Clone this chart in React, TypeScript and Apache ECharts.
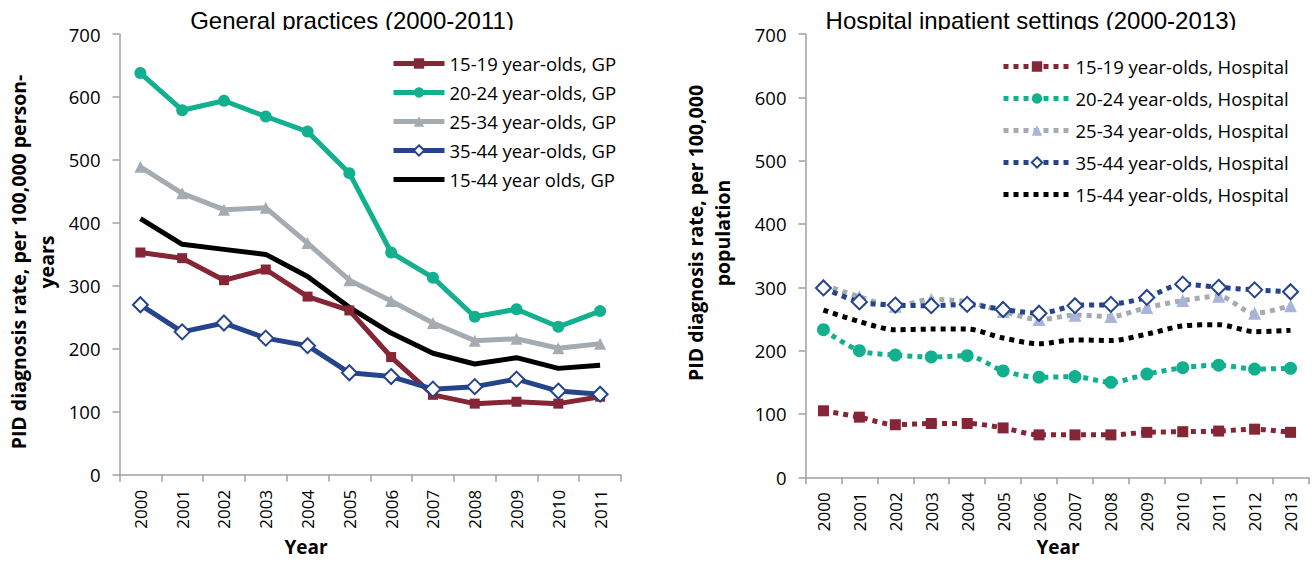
import React, { useEffect, useRef } from "react";
import * as echarts from "echarts";

// ---------- data ----------
const gpYears = ["2000", "2001", "2002", "2003", "2004", "2005", "2006", "2007", "2008", "2009", "2010", "2011"];
const hospYears = ["2000", "2001", "2002", "2003", "2004", "2005", "2006", "2007", "2008", "2009", "2010", "2011", "2012", "2013"];

const gpNames = [
  "15-19 year-olds, GP",
  "20-24 year-olds, GP",
  "25-34 year-olds, GP",
  "35-44 year-olds, GP",
  "15-44 year olds, GP",
];
const hospNames = [
  "15-19 year-olds, Hospital",
  "20-24 year-olds, Hospital",
  "25-34 year-olds, Hospital",
  "35-44 year-olds, Hospital",
  "15-44 year-olds, Hospital",
];

const gp1519 = [353, 344, 309, 326, 283, 261, 187, 127, 113, 116, 113, 124];
const gp2024 = [638, 579, 594, 569, 545, 479, 353, 313, 251, 263, 235, 260];
const gp2534 = [489, 447, 421, 424, 368, 309, 276, 241, 213, 216, 201, 208];
const gp3544 = [270, 227, 241, 217, 205, 162, 156, 136, 140, 152, 133, 128];
const gp1544 = [407, 366, 358, 350, 315, 266, 225, 193, 176, 186, 169, 174];

const h1519 = [105, 95, 83, 85, 85, 78, 67, 67, 67, 71, 72, 73, 76, 71];
const h2024 = [233, 200, 193, 190, 192, 168, 158, 159, 150, 163, 173, 177, 171, 172];
const h2534 = [304, 285, 270, 281, 277, 262, 249, 256, 254, 268, 279, 286, 259, 271];
const h3544 = [299, 277, 272, 271, 273, 265, 259, 271, 273, 284, 305, 300, 296, 293];
const h1544 = [264, 246, 233, 234, 234, 220, 211, 217, 216, 226, 239, 241, 230, 232];

const yTicks = { min: 0, max: 700, interval: 100 };

// ---------- styles ----------
const MAROON = "#852535";
const TEAL = "#12B08F";
const GRAY = "#A5ACB1";
const NAVY = "#25448C";
const BLACK = "#000000";
const LIGHTBLUE = "#A7B5DA";
const AXIS = "#A0A0A0";
const FONT = "'Open Sans', sans-serif";
const TITLE_FONT = "'Liberation Sans', Arial, sans-serif";

function makeAxes(grid: number, cats: string[]) {
  const x = {
    type: "category",
    gridIndex: grid,
    data: cats,
    boundaryGap: true,
    axisLine: { lineStyle: { color: AXIS, width: 1.5 } },
    axisTick: { show: true, length: 7, alignWithLabel: false, lineStyle: { color: AXIS, width: 1.5 } },
    axisLabel: { rotate: 90, interval: 0, margin: 15, fontFamily: FONT, fontSize: 17, color: "#000" },
    splitLine: { show: false },
  };
  const y = {
    type: "value",
    gridIndex: grid,
    min: yTicks.min,
    max: yTicks.max,
    interval: yTicks.interval,
    axisLine: { show: true, lineStyle: { color: AXIS, width: 1.5 } },
    axisTick: { show: true, length: 7, lineStyle: { color: AXIS, width: 1.5 } },
    axisLabel: { margin: 19, fontFamily: FONT, fontSize: 18.5, color: "#000" },
    splitLine: { show: false },
  };
  return { x, y };
}

function gpLine(name: string, data: number[], color: string, symbol: string, size: number) {
  return {
    name,
    type: "line",
    xAxisIndex: 0,
    yAxisIndex: 0,
    data,
    symbol,
    symbolSize: size,
    showSymbol: symbol !== "none",
    lineStyle: { color, width: 5 },
    itemStyle: { color, borderWidth: symbol === "emptyDiamond" ? 2 : 0 },
    emphasis: { disabled: true },
  };
}

function hospLine(name: string, data: number[], lineColor: string, markColor: string, symbol: string, size: number) {
  return {
    name,
    type: "line",
    xAxisIndex: 1,
    yAxisIndex: 1,
    data,
    symbol,
    symbolSize: size,
    smooth: 0.3,
    showSymbol: symbol !== "none",
    lineStyle: { color: lineColor, width: 5, type: [5, 5], cap: "butt" },
    itemStyle: { color: markColor, borderWidth: symbol === "emptyDiamond" ? 2 : 0 },
    emphasis: { disabled: true },
  };
}

export default function App() {
  const ref = useRef<HTMLDivElement>(null);
  useEffect(() => {
    if (!ref.current) return;
    const chart = echarts.init(ref.current, null, { renderer: "svg" });
    const a0 = makeAxes(0, gpYears);
    const a1 = makeAxes(1, hospYears);

    const legendCommon = {
      orient: "vertical",
      padding: 0,
      itemHeight: 13,
      selectedMode: false,
      textStyle: { fontFamily: FONT, fontSize: 18.5, color: "#000", lineHeight: 20 },
      lineStyle: { width: 5 },
    };

    const option: any = {
      animation: false,
      backgroundColor: "#fff",
      grid: [
        { left: 119.5, top: 34, width: 501.5, height: 440.8 },
        { left: 805.5, top: 34, width: 503, height: 443.3 },
      ],
      xAxis: [a0.x, a1.x],
      yAxis: [a0.y, a1.y],
      legend: [
        {
          ...legendCommon,
          left: 391,
          top: 53.5,
          itemWidth: 51,
          itemGap: 9,
          data: gpNames.map((n, i) => (i === 4 ? { name: n, itemStyle: { opacity: 0 } } : { name: n })),
        },
        {
          ...legendCommon,
          left: 1001,
          top: 56.5,
          itemWidth: 67,
          itemGap: 12,
          data: hospNames.map((n, i) => (i === 4 ? { name: n, itemStyle: { opacity: 0 } } : { name: n })),
        },
      ],
      series: [
        gpLine(gpNames[0], gp1519, MAROON, "rect", 10),
        gpLine(gpNames[1], gp2024, TEAL, "circle", 12),
        gpLine(gpNames[2], gp2534, GRAY, "triangle", 12),
        gpLine(gpNames[3], gp3544, NAVY, "emptyDiamond", 15),
        gpLine(gpNames[4], gp1544, BLACK, "none", 0),
        hospLine(hospNames[0], h1519, MAROON, MAROON, "rect", 11),
        hospLine(hospNames[1], h2024, TEAL, TEAL, "circle", 13),
        hospLine(hospNames[2], h2534, GRAY, LIGHTBLUE, "triangle", 13),
        hospLine(hospNames[3], h3544, NAVY, NAVY, "emptyDiamond", 15),
        hospLine(hospNames[4], h1544, BLACK, BLACK, "none", 0),
      ],
      graphic: [
        {
          type: "text",
          x: 352,
          y: 20,
          z: 10,
          style: { text: "General practices (2000-2011)", font: `24px ${TITLE_FONT}`, fill: "#000", align: "center", verticalAlign: "middle" },
        },
        {
          type: "text",
          x: 1031,
          y: 20,
          z: 10,
          style: { text: "Hospital inpatient settings (2000-2013)", font: `24px ${TITLE_FONT}`, fill: "#000", align: "center", verticalAlign: "middle" },
        },
        { type: "rect", z: 11, shape: { x: 170, y: 30, width: 370, height: 4 }, style: { fill: "#fff" } },
        { type: "rect", z: 11, shape: { x: 815, y: 30, width: 440, height: 4 }, style: { fill: "#fff" } },
        {
          type: "text",
          x: 18,
          y: 262,
          rotation: Math.PI / 2,
          style: { text: "PID diagnosis rate, per 100,000 person-", font: `bold 19.5px ${FONT}`, fill: "#000", align: "center", verticalAlign: "middle" },
        },
        {
          type: "text",
          x: 46.5,
          y: 262,
          rotation: Math.PI / 2,
          style: { text: "years", font: `bold 19.5px ${FONT}`, fill: "#000", align: "center", verticalAlign: "middle" },
        },
        {
          type: "text",
          x: 695,
          y: 233,
          rotation: Math.PI / 2,
          style: { text: "PID diagnosis rate, per 100,000", font: `bold 19.5px ${FONT}`, fill: "#000", align: "center", verticalAlign: "middle" },
        },
        {
          type: "text",
          x: 722,
          y: 233,
          rotation: Math.PI / 2,
          style: { text: "population", font: `bold 19.5px ${FONT}`, fill: "#000", align: "center", verticalAlign: "middle" },
        },
        {
          type: "text",
          x: 306,
          y: 547,
          style: { text: "Year", font: `bold 19px ${FONT}`, fill: "#000", align: "center", verticalAlign: "middle" },
        },
        {
          type: "text",
          x: 1058,
          y: 547,
          style: { text: "Year", font: `bold 19px ${FONT}`, fill: "#000", align: "center", verticalAlign: "middle" },
        },
      ],
    };
    chart.setOption(option);
    return () => chart.dispose();
  }, []);
  return (
    <div
      ref={ref}
      style={{ position: "fixed", left: 0, top: 0, width: 1313, height: 562, background: "#fff" }}
    />
  );
}
